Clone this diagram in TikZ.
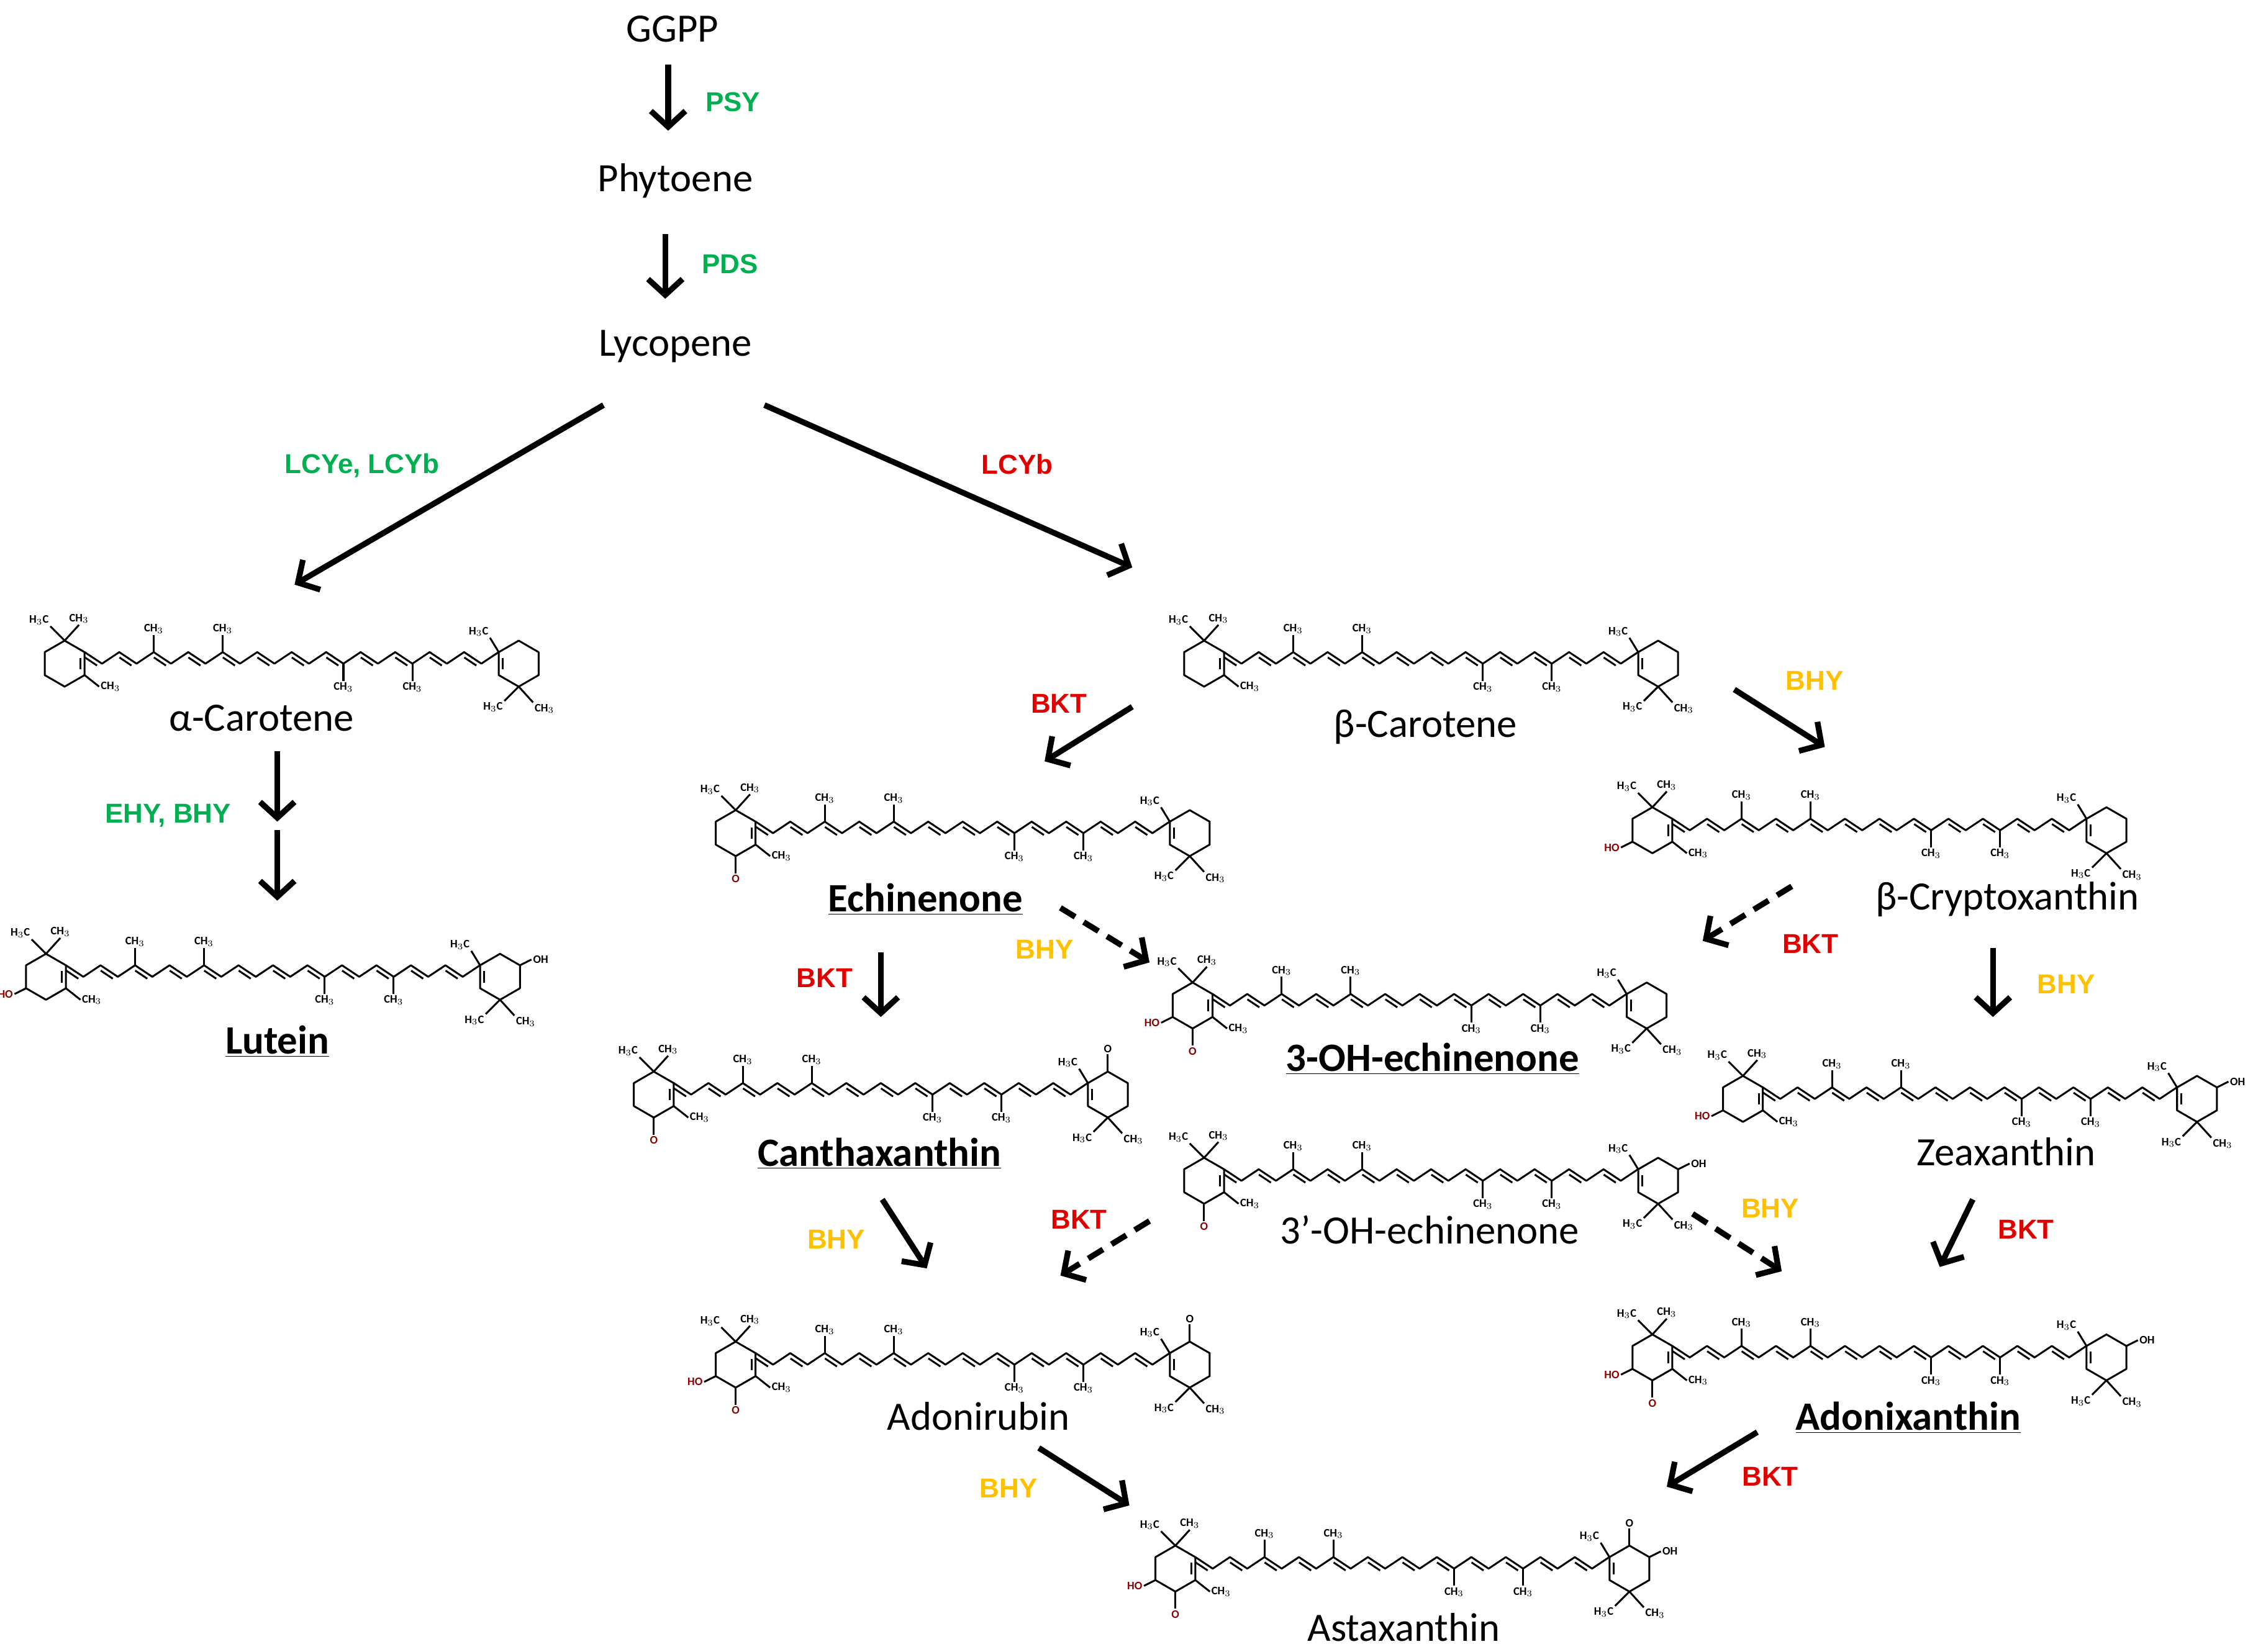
\documentclass[tikz,border=0pt]{standalone}
\usepackage{fontspec}
\setmainfont{Carlito}
\newfontfamily\enzfont{Liberation Sans}
\usetikzlibrary{arrows.meta}
\definecolor{enzgreen}{HTML}{00B050}
\definecolor{enzred}{HTML}{E00000}
\definecolor{enzyellow}{HTML}{FFC000}
\definecolor{oxred}{HTML}{8B0000}
\tikzset{
  bond/.style={line width=1.3pt, line join=round},
  atom/.style={font=\fontsize{8}{9}\selectfont\bfseries, inner sep=0.5pt},
  oxatom/.style={atom, text=oxred},
  cmpd/.style={font=\fontsize{28}{32}\selectfont, inner sep=1pt},
  key/.style={cmpd, font=\fontsize{28}{32}\selectfont\bfseries},
  enz/.style={font=\fontsize{19}{22}\selectfont\enzfont\bfseries, inner sep=1pt},
  rxn/.style={line width=4pt, -{Straight Barb[length=11pt,width=24pt]}},
  maybe/.style={rxn, dash pattern=on 12pt off 7pt},
  caro/.pic={
    % rings
    \draw[bond] (0,0) +(30:16) -- +(90:16) -- +(150:16) -- +(210:16) -- +(270:16) -- +(330:16) -- cycle;
    \draw[bond] (316,0) +(30:16) -- +(90:16) -- +(150:16) -- +(210:16) -- +(270:16) -- +(330:16) -- cycle;
    \draw[bond] (11,-4) -- (11,4);
    \draw[bond] (305,-4) -- (305,4);
    % polyene chain
    \draw[bond] (13.9,-8) \foreach \k in {1,...,24} {-- ({14+12*\k},{-8*mod(\k+1,2)})};
    \foreach \k in {1,3,...,23}
      \draw[bond] ({14+12*(\k-1)+0.1},-4.3) -- ({14+12*(\k-1)+8.5},1.3);
    % methyl groups
    \foreach \x in {62,110}
      \draw[bond] (\x,-8) -- (\x,-20) node[atom, above] {CH$_3$};
    \foreach \x in {194,242}
      \draw[bond] (\x,0) -- (\x,12) node[atom, below] {CH$_3$};
    \draw[bond] (0,-16) -- (-10,-26) node[atom, above left] {H$_3$C};
    \draw[bond] (0,-16) -- (10,-27) node[atom, above] {CH$_3$};
    \draw[bond] (13.9,8) -- (24,16) node[atom, right] {CH$_3$};
    \draw[bond] (316,16) -- (306,26) node[atom, below left] {H$_3$C};
    \draw[bond] (316,16) -- (326,27) node[atom, below right] {CH$_3$};
    \draw[bond] (302.1,-8) -- (296,-18) node[atom, above left] {H$_3$C};
    \coordinate (-lb) at (0,16);
    \coordinate (-ll) at (-13.9,8);
    \coordinate (-rt) at (316,-16);
    \coordinate (-rr) at (329.9,-8);
  }
}
\newcommand{\ketoL}[1]{\draw[bond] (#1-lb) -- ++(0,12) node[oxatom, below] {O};}
\newcommand{\ohL}[1]{\draw[bond] (#1-ll) -- ++(-8,4) node[oxatom, left] {HO};}
\newcommand{\ketoR}[1]{\draw[bond] (#1-rt) -- ++(0,-12) node[atom, above] {O};}
\newcommand{\ohR}[1]{\draw[bond] (#1-rr) -- ++(8,-4) node[atom, right] {OH};}
\begin{document}
\begin{tikzpicture}[x=1pt, y=-1pt]
\useasboundingbox (0,0) rectangle (1568,1150);

% upstream
\node[cmpd] (ggpp) at (468,20) {GGPP};
\node[cmpd] (phy) at (470,126) {Phytoene};
\node[cmpd] (lyc) at (470,241) {Lycopene};
\node[enz, text=enzgreen] (psy) at (510,71) {PSY};
\node[enz, text=enzgreen] (pds) at (508,184) {PDS};
\draw[rxn] (ggpp) ++(-3,25) coordinate (s1) -- ++(0,46) coordinate (e1);
\draw[rxn] (phy) ++(-7,37) coordinate (s2) -- ++(0,45) coordinate (e2);

% cyclases
\coordinate (la) at (420,282);
\coordinate (lb) at (532,282);
\coordinate (aa) at (205,407);
\coordinate (bb) at (788,395);
\draw[rxn] (la) -- (aa);
\draw[rxn] (lb) -- (bb);
\node[enz, text=enzgreen] at (252,324) {LCYe, LCYb};
\node[enz, text=enzred] at (708,323) {LCYb};

% alpha branch
\pic (acar) at (45,462) {caro};
\node[cmpd] (alpha) at (182,500) {α-Carotene};
\coordinate (ah1) at (193,523);
\coordinate (ah2) at (193,572);
\coordinate (ah3) at (193,578);
\coordinate (ah4) at (193,627);
\draw[rxn] (ah1) -- (ah2);
\draw[rxn] (ah3) -- (ah4);
\node[enz, text=enzgreen] at (117,568) {EHY, BHY};
\pic (lut) at (32,680) {caro};
\ohL{lut}
\ohR{lut}
\node[key] (lutein) at (193,725) {\underline{Lutein}};

% beta branch
\pic (bcar) at (838,462) {caro};
\node[cmpd] (beta) at (992,506) {β-Carotene};
\pic (ech) at (512,580) {caro};
\ketoL{ech}
\node[key] (echin) at (644,626) {\underline{Echinenone}};
\pic (cry) at (1150,578) {caro};
\ohL{cry}
\node[cmpd] (crypto) at (1397,626) {β-Cryptoxanthin};
\pic (ohe) at (830,700) {caro};
\ohL{ohe}
\ketoL{ohe}
\node[key] (ohech) at (997,737) {\underline{3-OH-echinenone}};
\pic (can) at (455,762) {caro};
\ketoL{can}
\ketoR{can}
\node[key] (cantha) at (612,803) {\underline{Canthaxanthin}};
\pic (zea) at (1213,765) {caro};
\ohL{zea}
\ohR{zea}
\node[cmpd] (zeax) at (1396,802) {Zeaxanthin};
\pic (ohp) at (838,822) {caro};
\ketoL{ohp}
\ohR{ohp}
\node[cmpd] (ohpech) at (995,856) {3’-OH-echinenone};
\pic (adr) at (512,950) {caro};
\ohL{adr}
\ketoL{adr}
\ketoR{adr}
\node[cmpd] (adonir) at (681,986) {Adonirubin};
\pic (adx) at (1150,945) {caro};
\ohL{adx}
\ketoL{adx}
\ohR{adx}
\node[key] (adonix) at (1328,987) {\underline{Adonixanthin}};
\pic (ast) at (818,1092) {caro};
\ohL{ast}
\ketoL{ast}
\ohR{ast}
\ketoR{ast}
\node[cmpd] (astax) at (977,1133) {Astaxanthin};

% beta branch arrows
\coordinate (b1s) at (788,492);  \coordinate (b1e) at (727,530);
\coordinate (b2s) at (1207,480); \coordinate (b2e) at (1270,520);
\coordinate (b3s) at (738,632);  \coordinate (b3e) at (800,670);
\coordinate (b4s) at (1247,617); \coordinate (b4e) at (1185,655);
\coordinate (b5s) at (613,663);  \coordinate (b5e) at (613,708);
\coordinate (b6s) at (1387,660); \coordinate (b6e) at (1387,708);
\coordinate (b7s) at (614,835);  \coordinate (b7e) at (645,883);
\coordinate (b8s) at (800,850);  \coordinate (b8e) at (738,888);
\coordinate (b9s) at (1178,845); \coordinate (b9e) at (1240,885);
\coordinate (b10s) at (1373,835); \coordinate (b10e) at (1350,882);
\coordinate (b11s) at (723,1008); \coordinate (b11e) at (786,1048);
\coordinate (b12s) at (1223,997); \coordinate (b12e) at (1160,1035);
\draw[rxn] (b1s) -- (b1e);
\draw[rxn] (b2s) -- (b2e);
\draw[maybe] (b3s) -- (b3e);
\draw[maybe] (b4s) -- (b4e);
\draw[rxn] (b5s) -- (b5e);
\draw[rxn] (b6s) -- (b6e);
\draw[rxn] (b7s) -- (b7e);
\draw[maybe] (b8s) -- (b8e);
\draw[maybe] (b9s) -- (b9e);
\draw[rxn] (b10s) -- (b10e);
\draw[rxn] (b11s) -- (b11e);
\draw[rxn] (b12s) -- (b12e);
\node[enz, text=enzred] at (737,490) {BKT};
\node[enz, text=enzyellow] at (1263,474) {BHY};
\node[enz, text=enzyellow] at (727,661) {BHY};
\node[enz, text=enzred] at (1260,657) {BKT};
\node[enz, text=enzred] at (574,681) {BKT};
\node[enz, text=enzyellow] at (1438,685) {BHY};
\node[enz, text=enzyellow] at (582,863) {BHY};
\node[enz, text=enzred] at (751,849) {BKT};
\node[enz, text=enzyellow] at (1232,841) {BHY};
\node[enz, text=enzred] at (1410,856) {BKT};
\node[enz, text=enzyellow] at (702,1036) {BHY};
\node[enz, text=enzred] at (1232,1028) {BKT};
\end{tikzpicture}
\end{document}
